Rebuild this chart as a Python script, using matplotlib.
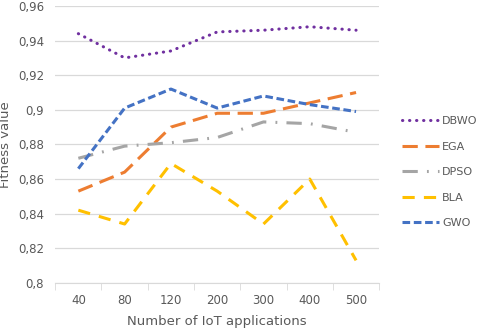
import matplotlib.pyplot as plt
import numpy as np

# data
apps = ['40', '80', '120', '200', '300', '400', '500']
dbwo = [0.944, 0.930, 0.934, 0.945, 0.946, 0.948, 0.946]
ega = [0.853, 0.864, 0.890, 0.898, 0.898, 0.904, 0.910]
dpso = [0.872, 0.879, 0.881, 0.884, 0.893, 0.892, 0.887]
bla = [0.842, 0.834, 0.869, 0.853, 0.834, 0.860, 0.813]
gwo = [0.866, 0.901, 0.912, 0.901, 0.908, 0.903, 0.899]
yticks = [0.8, 0.82, 0.84, 0.86, 0.88, 0.9, 0.92, 0.94, 0.96]
ylabels = ['0,8', '0,82', '0,84', '0,86', '0,88', '0,9', '0,92', '0,94', '0,96']

txt = '#595959'
fig = plt.figure(figsize=(4.8, 3.32), dpi=100)
ax = fig.add_axes([0.115, 0.148, 0.675, 0.834])

x = np.arange(len(apps))
ax.plot(x, dbwo, color='#7030A0', lw=2.2, linestyle=(0, (0.1, 2.2)),
        dash_capstyle='round', label='DBWO')
ax.plot(x, ega, color='#ED7D31', lw=2.2, linestyle=(0, (5, 2.5)), label='EGA')
ax.plot(x, dpso, color='#A5A5A5', lw=2.2, linestyle=(0, (5, 3, 0.6, 3)), label='DPSO')
ax.plot(x, bla, color='#FFC000', lw=2.2, linestyle=(0, (4, 3)), label='BLA')
ax.plot(x, gwo, color='#4472C4', lw=2.2, linestyle=(0, (2.5, 1.2)), label='GWO')

ax.set_xlim(-0.5, len(apps) - 0.5)
ax.set_ylim(0.8, 0.96)
ax.set_yticks(yticks)
ax.set_yticklabels(ylabels)
ax.set_xticks(x)
ax.set_xticklabels(apps)
ax.set_xticks(np.arange(-0.5, len(apps)), minor=True)
ax.tick_params(axis='x', which='major', length=0, pad=8, colors=txt, labelsize=8.5)
ax.tick_params(axis='x', which='minor', length=5, color='#D9D9D9')
ax.tick_params(axis='y', length=0, pad=8, colors=txt, labelsize=8.5)
ax.grid(axis='y', color='#D9D9D9', lw=0.9)
ax.set_axisbelow(True)
for s in ['top', 'right', 'left']:
    ax.spines[s].set_visible(False)
ax.spines['bottom'].set_color('#D9D9D9')

ax.set_xlabel('Number of IoT applications', color=txt, fontsize=9.5, labelpad=6)
ax.set_ylabel('Fitness value', color=txt, fontsize=9.5, labelpad=4)

leg = ax.legend(loc='center left', bbox_to_anchor=(1.04, 0.40), frameon=False,
                fontsize=8, handlelength=3.3, labelspacing=1.4, handletextpad=0.3)
for t in leg.get_texts():
    t.set_color(txt)

plt.savefig('out.png', dpi=100)
